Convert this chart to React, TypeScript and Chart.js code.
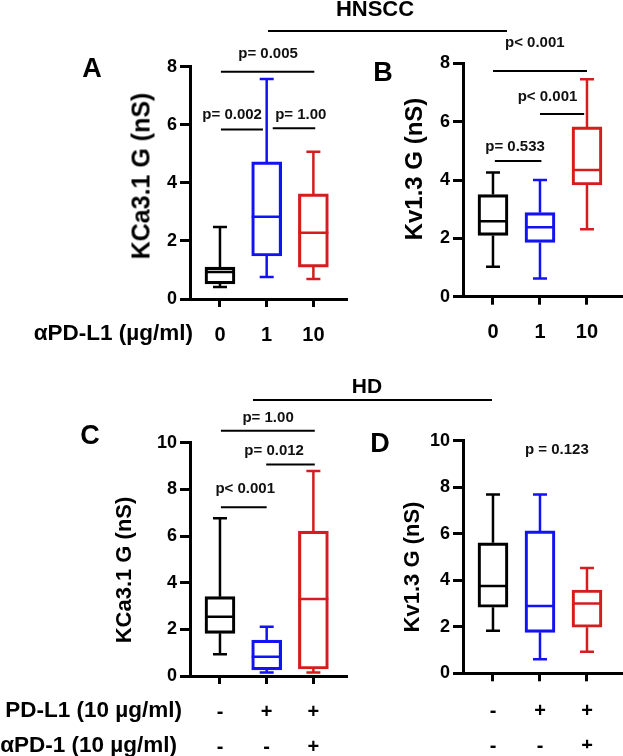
import React, { useEffect, useRef } from 'react';
import { Chart, registerables } from 'chart.js';

Chart.register(...registerables);

const FONT = '"Liberation Sans", Arial, Helvetica, sans-serif';
const BLACK = '#000000';
const BLUE = '#1212f2';
const RED = '#d41e1e';
const boxColors = [BLACK, BLUE, RED];

// ---- Panel A: HNSCC KCa3.1 ----
const groupsAB = ['0', '1', '10'];
const aMin = [0.41, 0.76, 0.69];
const aQ1 = [0.52, 1.48, 1.1];
const aMed = [0.93, 2.83, 2.28];
const aQ3 = [1.1, 4.72, 3.62];
const aMax = [2.48, 7.58, 5.07];

// ---- Panel B: HNSCC Kv1.3 ----
const bMin = [1.03, 0.62, 2.31];
const bQ1 = [2.1, 1.86, 3.83];
const bMed = [2.59, 2.38, 4.34];
const bQ3 = [3.5, 2.88, 5.82];
const bMax = [4.26, 4.0, 7.45];

// ---- Panel C: HD KCa3.1 ----
const groupsCD = [['-', '-'], ['+', '-'], ['+', '+']];
const cMin = [0.93, 0.15, 0.15];
const cQ1 = [1.83, 0.26, 0.3];
const cMed = [2.54, 0.83, 3.3];
const cQ3 = [3.4, 1.54, 6.21];
const cMax = [6.76, 2.11, 8.79];

// ---- Panel D: HD Kv1.3 ----
const dMin = [1.83, 0.6, 0.93];
const dQ1 = [2.84, 1.76, 1.98];
const dMed = [3.75, 2.89, 3.0];
const dQ3 = [5.61, 6.12, 3.58];
const dMax = [7.69, 7.69, 4.53];

const yTicksAB = 8;
const yTicksCD = 10;

type Sig = { from?: number; to?: number; y?: number; label: string; tx: number; ty: number };

const sigA: Sig[] = [
  { from: 0.02, to: 2.02, y: 7.83, label: 'p= 0.005', tx: 1.03, ty: 8.44 },
  { from: 0.02, to: 0.92, y: 5.84, label: 'p= 0.002', tx: 0.26, ty: 6.34 },
  { from: 1.13, to: 2.04, y: 5.88, label: 'p= 1.00', tx: 1.73, ty: 6.34 },
];
const sigB: Sig[] = [
  { from: 0, to: 2, y: 7.74, label: 'p< 0.001', tx: 0.89, ty: 8.69 },
  { from: 1.0, to: 1.94, y: 6.26, label: 'p< 0.001', tx: 1.16, ty: 6.86 },
  { from: 0.04, to: 1.03, y: 4.65, label: 'p= 0.533', tx: 0.47, ty: 5.14 },
];
const sigC: Sig[] = [
  { from: 0.02, to: 2.03, y: 10.51, label: 'p= 1.00', tx: 1.03, ty: 11.06 },
  { from: 0.99, to: 2.03, y: 9.07, label: 'p= 0.012', tx: 1.16, ty: 9.64 },
  { from: 0.02, to: 1.0, y: 7.23, label: 'p< 0.001', tx: 0.54, ty: 8.04 },
];
const sigD: Sig[] = [{ label: 'p = 0.123', tx: 1.36, ty: 9.6 }];

type PanelCfg = {
  id: string;
  labels: (string | string[])[];
  min: number[]; q1: number[]; med: number[]; q3: number[]; max: number[];
  sig: Sig[];
  yMax: number;
  canvas: { left: number; top: number; width: number; height: number };
  area: { left: number; top: number; right: number; bottom: number };
  xMin: number; xMax: number;
  yAxisW: number; xAxisH: number; xPad: number; lineH: number;
};

const panels: PanelCfg[] = [
  {
    id: 'A', labels: groupsAB, min: aMin, q1: aQ1, med: aMed, q3: aQ3, max: aMax, sig: sigA, yMax: yTicksAB,
    canvas: { left: 100, top: 20, width: 270, height: 350 },
    area: { left: 190, top: 66.7, right: 347, bottom: 299 },
    xMin: -0.642, xMax: 2.72, yAxisW: 50, xAxisH: 45, xPad: 16, lineH: 1.2,
  },
  {
    id: 'B', labels: groupsAB, min: bMin, q1: bQ1, med: bMed, q3: bQ3, max: bMax, sig: sigB, yMax: yTicksAB,
    canvas: { left: 380, top: 20, width: 262, height: 350 },
    area: { left: 463, top: 63.3, right: 622, bottom: 296.7 },
    xMin: -0.638, xMax: 2.745, yAxisW: 50, xAxisH: 45, xPad: 16, lineH: 1.2,
  },
  {
    id: 'C', labels: groupsCD, min: cMin, q1: cQ1, med: cMed, q3: cQ3, max: cMax, sig: sigC, yMax: yTicksCD,
    canvas: { left: 100, top: 390, width: 270, height: 366 },
    area: { left: 190, top: 442.7, right: 347, bottom: 676 },
    xMin: -0.642, xMax: 2.72, yAxisW: 50, xAxisH: 75, xPad: 10.5, lineH: 1.75,
  },
  {
    id: 'D', labels: groupsCD, min: dMin, q1: dQ1, med: dMed, q3: dQ3, max: dMax, sig: sigD, yMax: yTicksCD,
    canvas: { left: 380, top: 390, width: 262, height: 366 },
    area: { left: 463, top: 440.7, right: 622, bottom: 673.3 },
    xMin: -0.638, xMax: 2.745, yAxisW: 50, xAxisH: 75, xPad: 13, lineH: 1.75,
  },
];

function boxPlugin(c: PanelCfg) {
  return {
    id: 'boxWhisker' + c.id,
    afterDatasetsDraw(chart: any) {
      const ctx = chart.ctx;
      const xs = chart.scales.x;
      const ys = chart.scales.y;
      const half = 15;
      const cap = 7;
      ctx.save();
      ctx.lineWidth = 2.5;
      ctx.lineCap = 'butt';
      c.labels.forEach((_, i) => {
        const x = xs.getPixelForValue(i);
        ctx.strokeStyle = boxColors[i];
        const yMin = ys.getPixelForValue(c.min[i]);
        const yQ1 = ys.getPixelForValue(c.q1[i]);
        const yMed = ys.getPixelForValue(c.med[i]);
        const yQ3 = ys.getPixelForValue(c.q3[i]);
        const yMax = ys.getPixelForValue(c.max[i]);
        ctx.beginPath();
        ctx.moveTo(x, yQ3);
        ctx.lineTo(x, yMax);
        ctx.moveTo(x - cap, yMax);
        ctx.lineTo(x + cap, yMax);
        ctx.moveTo(x, yQ1);
        ctx.lineTo(x, yMin);
        ctx.moveTo(x - cap, yMin);
        ctx.lineTo(x + cap, yMin);
        ctx.moveTo(x - half, yMed);
        ctx.lineTo(x + half, yMed);
        ctx.stroke();
      });
      ctx.restore();
    },
  };
}

function sigPlugin(c: PanelCfg) {
  return {
    id: 'sig' + c.id,
    afterDraw(chart: any) {
      const ctx = chart.ctx;
      const xs = chart.scales.x;
      const ys = chart.scales.y;
      ctx.save();
      ctx.strokeStyle = '#000';
      ctx.fillStyle = '#111';
      ctx.lineWidth = 2;
      ctx.font = `bold 15px ${FONT}`;
      ctx.textAlign = 'center';
      ctx.textBaseline = 'middle';
      c.sig.forEach((s) => {
        if (s.from !== undefined && s.to !== undefined && s.y !== undefined) {
          const y = ys.getPixelForValue(s.y);
          ctx.beginPath();
          ctx.moveTo(xs.getPixelForValue(s.from), y);
          ctx.lineTo(xs.getPixelForValue(s.to), y);
          ctx.stroke();
        }
        ctx.fillText(s.label, xs.getPixelForValue(s.tx), ys.getPixelForValue(s.ty));
      });
      ctx.restore();
    },
  };
}

function Panel({ c }: { c: PanelCfg }) {
  const ref = useRef<HTMLCanvasElement>(null);
  useEffect(() => {
    const pad = {
      left: c.area.left - c.canvas.left - c.yAxisW,
      top: c.area.top - c.canvas.top,
      right: c.canvas.left + c.canvas.width - c.area.right,
      bottom: c.canvas.top + c.canvas.height - c.area.bottom - c.xAxisH,
    };
    const chart = new Chart(ref.current as HTMLCanvasElement, {
      type: 'bar',
      data: {
        datasets: [
          {
            data: c.q1.map((q, i) => ({ x: i, y: [q, c.q3[i]] })) as any,
            borderColor: boxColors,
            backgroundColor: 'rgba(255,255,255,0)',
            borderWidth: 2.5,
            borderSkipped: false,
            barThickness: 30,
          } as any,
        ],
      },
      options: {
        animation: false,
        responsive: false,
        maintainAspectRatio: false,
        layout: { padding: pad },
        plugins: { legend: { display: false }, tooltip: { enabled: false }, title: { display: false } },
        scales: {
          x: {
            type: 'linear',
            min: c.xMin,
            max: c.xMax,
            offset: false,
            afterBuildTicks: (s: any) => {
              s.ticks = c.labels.map((_, i) => ({ value: i }));
            },
            afterFit: (s: any) => {
              s.height = c.xAxisH;
            },
            grid: {
              display: true,
              drawOnChartArea: false,
              drawTicks: true,
              tickLength: 8,
              tickWidth: 3,
              tickColor: '#000',
              offset: false,
            },
            border: { display: true, color: '#000', width: 3 },
            ticks: {
              callback: (v: any) => c.labels[Math.round(Number(v))] as any,
              color: '#000',
              font: { family: FONT, size: 20, weight: 'bold', lineHeight: c.lineH },
              padding: c.xPad,
              maxRotation: 0,
              minRotation: 0,
              autoSkip: false,
            },
          } as any,
          y: {
            type: 'linear',
            min: 0,
            max: c.yMax,
            afterFit: (s: any) => {
              s.width = c.yAxisW;
            },
            grid: {
              display: true,
              drawOnChartArea: false,
              drawTicks: true,
              tickLength: 10,
              tickWidth: 3,
              tickColor: '#000',
            },
            border: { display: true, color: '#000', width: 3 },
            ticks: {
              stepSize: 2,
              color: '#000',
              font: { family: FONT, size: 18, weight: 'bold' },
              padding: 3,
            },
          } as any,
        },
      },
      plugins: [boxPlugin(c), sigPlugin(c)],
    });
    return () => chart.destroy();
  }, [c]);
  return (
    <canvas
      ref={ref}
      width={c.canvas.width}
      height={c.canvas.height}
      style={{
        position: 'absolute',
        left: c.canvas.left,
        top: c.canvas.top,
        width: c.canvas.width,
        height: c.canvas.height,
      }}
    />
  );
}

const baseText: React.CSSProperties = {
  position: 'absolute',
  fontFamily: FONT,
  fontWeight: 'bold',
  color: '#000',
  whiteSpace: 'nowrap',
  lineHeight: 1,
};

function Centered({ x, y, size, text, rotate }: { x: number; y: number; size: number; text: string; rotate?: boolean }) {
  return (
    <div
      style={{
        ...baseText,
        left: x,
        top: y,
        fontSize: size,
        transform: `translate(-50%, -50%)${rotate ? ' rotate(-90deg)' : ''}`,
      }}
    >
      {text}
    </div>
  );
}

function RightText({ right, y, size, text }: { right: number; y: number; size: number; text: string }) {
  return (
    <div
      style={{
        ...baseText,
        right: 623 - right,
        top: y,
        fontSize: size,
        transform: 'translateY(-50%)',
      }}
    >
      {text}
    </div>
  );
}

function HLine({ x1, x2, y }: { x1: number; x2: number; y: number }) {
  return <div style={{ position: 'absolute', left: x1, top: y - 1, width: x2 - x1, height: 2, background: '#000' }} />;
}

export default function App() {
  return (
    <div
      style={{
        position: 'absolute',
        left: 0,
        top: 0,
        width: 623,
        height: 756,
        overflow: 'hidden',
        background: '#fff',
      }}
    >
      {panels.map((p) => (
        <Panel key={p.id} c={p} />
      ))}

      <Centered x={375} y={9} size={22} text="HNSCC" />
      <HLine x1={268} x2={507} y={31} />
      <Centered x={367} y={385} size={21} text="HD" />
      <HLine x1={253} x2={492} y={400} />

      <Centered x={92} y={68} size={27} text="A" />
      <Centered x={383} y={72} size={27} text="B" />
      <Centered x={90} y={435} size={27} text="C" />
      <Centered x={380} y={443} size={27} text="D" />

      <Centered x={141} y={176} size={25} text="KCa3.1 G (nS)" rotate />
      <Centered x={414} y={169} size={24} text="Kv1.3 G (nS)" rotate />
      <Centered x={124} y={570} size={22} text="KCa3.1 G (nS)" rotate />
      <Centered x={412} y={567} size={22} text="Kv1.3 G (nS)" rotate />

      <RightText right={193} y={333} size={22.5} text="αPD-L1 (µg/ml)" />
      <RightText right={182} y={710} size={22.5} text="PD-L1 (10 µg/ml)" />
      <RightText right={177} y={745} size={22.5} text="αPD-1 (10 µg/ml)" />
    </div>
  );
}
